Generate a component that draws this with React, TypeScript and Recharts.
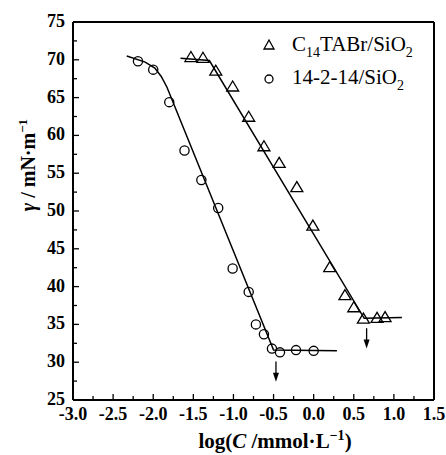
import {
    ComposedChart,
    Line,
    Scatter,
    XAxis,
    YAxis,
    ReferenceLine,
    ReferenceDot,
    Legend,
} from 'recharts'

const FONT = '"Liberation Serif", "Times New Roman", serif'

// tick positions (majors get a label, minors are just short marks)
const xTicks = [-3.0, -2.75, -2.5, -2.25, -2.0, -1.75, -1.5, -1.25, -1.0, -0.75, -0.5, -0.25, 0.0, 0.25, 0.5, 0.75, 1.0, 1.25, 1.5]
const xMajor = [-3.0, -2.5, -2.0, -1.5, -1.0, -0.5, 0.0, 0.5, 1.0, 1.5]
const yTicks = [25, 27.5, 30, 32.5, 35, 37.5, 40, 42.5, 45, 47.5, 50, 52.5, 55, 57.5, 60, 62.5, 65, 67.5, 70, 72.5, 75]
const yMajor = [25, 30, 35, 40, 45, 50, 55, 60, 65, 70, 75]

// measured points
const tabrPoints = [
    { x: -1.53, y: 70.3 },
    { x: -1.38, y: 70.2 },
    { x: -1.22, y: 68.5 },
    { x: -1.01, y: 66.4 },
    { x: -0.81, y: 62.4 },
    { x: -0.62, y: 58.5 },
    { x: -0.43, y: 56.3 },
    { x: -0.21, y: 53.1 },
    { x: -0.01, y: 48.0 },
    { x: 0.2, y: 42.5 },
    { x: 0.39, y: 38.8 },
    { x: 0.5, y: 37.2 },
    { x: 0.62, y: 35.7 },
    { x: 0.79, y: 35.8 },
    { x: 0.89, y: 35.9 },
]
const geminiPoints = [
    { x: -2.19, y: 69.8 },
    { x: -2.0, y: 68.7 },
    { x: -1.8, y: 64.4 },
    { x: -1.61, y: 58.0 },
    { x: -1.4, y: 54.1 },
    { x: -1.19, y: 50.4 },
    { x: -1.01, y: 42.4 },
    { x: -0.81, y: 39.3 },
    { x: -0.72, y: 35.0 },
    { x: -0.62, y: 33.7 },
    { x: -0.52, y: 31.8 },
    { x: -0.42, y: 31.3 },
    { x: -0.22, y: 31.6 },
    { x: 0.0, y: 31.5 },
]

// fitted lines
const tabrFit = [
    { x: -1.66, y: 70.2 },
    { x: -1.3, y: 69.9 },
    { x: 0.63, y: 35.8 },
    { x: 1.1, y: 35.9 },
]
const geminiFit = [
    { x: -2.33, y: 70.5 },
    { x: -2.1, y: 69.7 },
    { x: -1.98, y: 68.9 },
    { x: -1.9, y: 67.8 },
    { x: -1.83, y: 66.4 },
    { x: -0.5, y: 31.6 },
    { x: 0.29, y: 31.5 },
]

// cmc arrows
const arrows = [
    { x: -0.47, top: 30.1, tip: 27.4 },
    { x: 0.66, top: 34.5, tip: 31.8 },
]

const legendItems = [
    { key: 'tabr', marker: 'triangle', main: 'C', sub1: '14', rest: 'TABr/SiO', sub2: '2' },
    { key: 'gemini', marker: 'circle', main: '', sub1: '', rest: '14-2-14/SiO', sub2: '2' },
]

function XTick(props: any) {
    const { x, y, payload } = props
    const v = payload.value
    const major = xMajor.some((m) => Math.abs(m - v) < 1e-6)
    return (
        <g>
            <line x1={x} x2={x} y1={y} y2={y - (major ? 6 : 4)} stroke="#000" strokeWidth={1.3} />
            {major && (
                <text x={x} y={y + 20} textAnchor="middle" fontFamily={FONT} fontWeight="bold" fontSize={18} fill="#000">
                    {v.toFixed(1)}
                </text>
            )}
        </g>
    )
}

function YTick(props: any) {
    const { x, y, payload } = props
    const v = payload.value
    const major = yMajor.includes(v)
    return (
        <g>
            <line x1={x} x2={x + (major ? 6 : 4)} y1={y} y2={y} stroke="#000" strokeWidth={1.3} />
            {major && (
                <text x={x - 8} y={y + 5} textAnchor="end" fontFamily={FONT} fontWeight="bold" fontSize={18} fill="#000">
                    {v}
                </text>
            )}
        </g>
    )
}

function RightTick(props: any) {
    const { x, y, payload } = props
    const major = yMajor.includes(payload.value)
    return <line x1={x} x2={x - (major ? 6 : 4)} y1={y} y2={y} stroke="#000" strokeWidth={1.3} />
}

const Triangle = (props: any) => {
    const { cx, cy } = props
    return (
        <path
            d={`M${cx},${cy - 6} L${cx - 6},${cy + 4} L${cx + 6},${cy + 4} Z`}
            fill="none"
            stroke="#000"
            strokeWidth={1.3}
        />
    )
}

const Circle = (props: any) => {
    const { cx, cy } = props
    return <circle cx={cx} cy={cy} r={4.6} fill="none" stroke="#000" strokeWidth={1.3} />
}

const ArrowHead = (props: any) => {
    const { cx, cy } = props
    return <path d={`M${cx - 3},${cy - 9} L${cx + 3},${cy - 9} L${cx},${cy} Z`} fill="#000" />
}

const subStyle = { fontSize: 14, position: 'relative' as const, top: 6, lineHeight: 0 }

function LegendBox() {
    return (
        <div style={{ fontFamily: FONT, fontSize: 21, color: '#000', lineHeight: '33px' }}>
            {legendItems.map((it) => (
                <div key={it.key} style={{ display: 'flex', alignItems: 'center', height: 33 }}>
                    <svg width={16} height={14} style={{ marginRight: 15 }}>
                        {it.marker === 'triangle' ? (
                            <path d="M8,2 L3,11 L13,11 Z" fill="none" stroke="#000" strokeWidth={1.3} />
                        ) : (
                            <circle cx={8} cy={8} r={4} fill="none" stroke="#000" strokeWidth={1.3} />
                        )}
                    </svg>
                    <span style={{ whiteSpace: 'nowrap' }}>
                        {it.main}
                        {it.sub1 && <span style={subStyle}>{it.sub1}</span>}
                        {it.rest}
                        <span style={subStyle}>{it.sub2}</span>
                    </span>
                </div>
            ))}
        </div>
    )
}

export default function App() {
    return (
        <div style={{ position: 'absolute', left: 0, top: 0, background: '#fff' }}>
            <ComposedChart width={446} height={455} margin={{ top: 21, right: 11, left: 0, bottom: 0 }}>
                <XAxis
                    type="number"
                    dataKey="x"
                    domain={[-3, 1.5]}
                    ticks={xTicks}
                    interval={0}
                    tick={<XTick />}
                    tickLine={false}
                    tickSize={0}
                    tickMargin={0}
                    height={55}
                    axisLine={{ stroke: '#000', strokeWidth: 2 }}
                    label={{
                        content: () => (
                            <text x={275} y={448} textAnchor="middle" fontFamily={FONT} fontWeight="bold" fontSize={21} fill="#000">
                                log(<tspan fontStyle="italic">C</tspan> /mmol·L
                                <tspan dy={-8} fontSize={14}>−1</tspan>
                                <tspan dy={8}>)</tspan>
                            </text>
                        ),
                    }}
                />
                <XAxis
                    xAxisId="top"
                    orientation="top"
                    type="number"
                    domain={[-3, 1.5]}
                    height={1}
                    tick={false}
                    tickLine={false}
                    axisLine={{ stroke: '#000', strokeWidth: 2 }}
                />
                <YAxis
                    type="number"
                    domain={[25, 75]}
                    ticks={yTicks}
                    interval={0}
                    tick={<YTick />}
                    tickLine={false}
                    tickSize={0}
                    tickMargin={0}
                    width={73}
                    axisLine={{ stroke: '#000', strokeWidth: 2 }}
                    label={{
                        content: () => (
                            <text
                                x={35}
                                y={165}
                                transform="rotate(-90 35 165)"
                                textAnchor="middle"
                                fontFamily={FONT}
                                fontWeight="bold"
                                fontSize={20}
                                fill="#000"
                            >
                                <tspan fontStyle="italic">γ</tspan> / mN·m
                                <tspan dy={-8} fontSize={13}>−1</tspan>
                            </text>
                        ),
                    }}
                />
                <YAxis
                    yAxisId="right"
                    orientation="right"
                    type="number"
                    domain={[25, 75]}
                    ticks={yTicks}
                    interval={0}
                    tick={<RightTick />}
                    tickLine={false}
                    tickSize={0}
                    tickMargin={0}
                    width={1}
                    axisLine={{ stroke: '#000', strokeWidth: 2 }}
                />
                <Line data={tabrFit} dataKey="y" type="linear" stroke="#000" strokeWidth={1.5} dot={false} isAnimationActive={false} legendType="none" />
                <Line data={geminiFit} dataKey="y" type="linear" stroke="#000" strokeWidth={1.5} dot={false} isAnimationActive={false} legendType="none" />
                <Scatter data={tabrPoints} dataKey="y" shape={<Triangle />} isAnimationActive={false} />
                <Scatter data={geminiPoints} dataKey="y" shape={<Circle />} isAnimationActive={false} />
                {arrows.map((a) => (
                    <ReferenceLine
                        key={`s${a.x}`}
                        segment={[{ x: a.x, y: a.top }, { x: a.x, y: a.tip + 0.8 }]}
                        stroke="#000"
                        strokeWidth={1.3}
                    />
                ))}
                {arrows.map((a) => (
                    <ReferenceDot key={`h${a.x}`} x={a.x} y={a.tip} r={0} shape={<ArrowHead />} />
                ))}
                <Legend
                    layout="vertical"
                    align="center"
                    verticalAlign="middle"
                    content={<LegendBox />}
                    wrapperStyle={{ top: 28, left: 261, width: 180 }}
                />
            </ComposedChart>
        </div>
    )
}
